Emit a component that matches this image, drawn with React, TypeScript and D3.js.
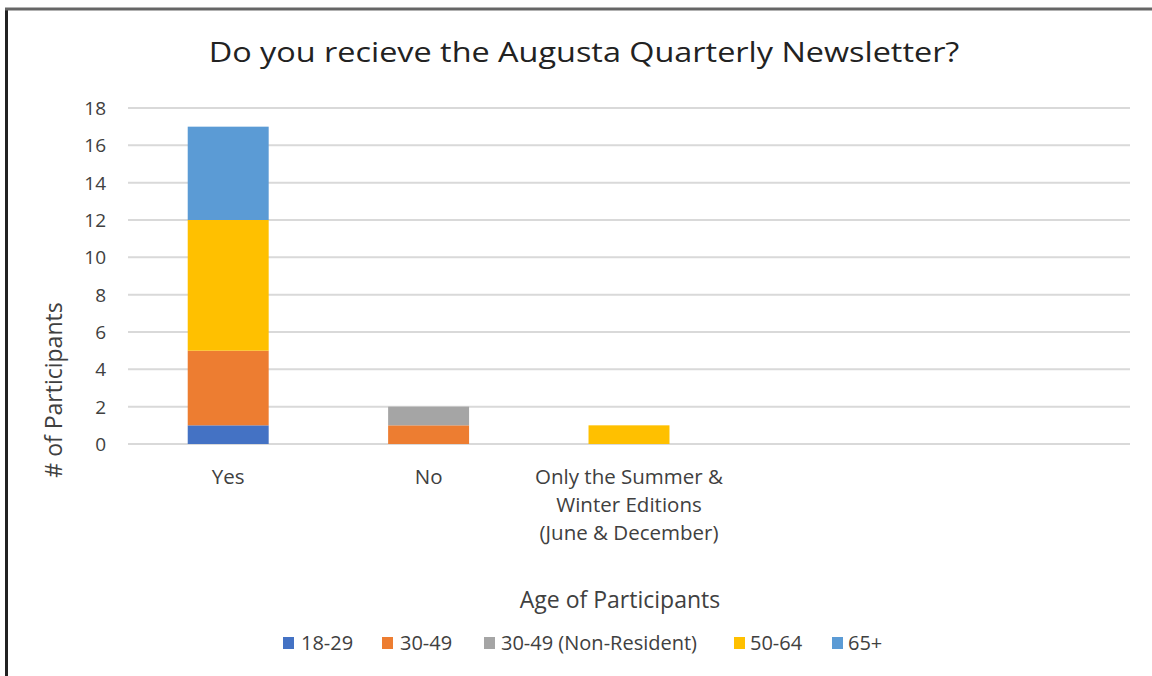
import React from "react";
import * as d3 from "d3";

const categories = ["Yes", "No", "Only the Summer & Winter Editions (June & December)", "", " "];
const categoryLines = [["Yes"], ["No"], ["Only the Summer &", "Winter Editions", "(June & December)"], [], []];
const seriesNames = ["18-29", "30-49", "30-49 (Non-Resident)", "50-64", "65+"];
const seriesColors = ["#4472C4", "#ED7D31", "#A5A5A5", "#FFC000", "#5B9BD5"];
const s1829 = [1, 0, 0, 0, 0];
const s3049 = [4, 1, 0, 0, 0];
const s3049nr = [0, 1, 0, 0, 0];
const s5064 = [7, 0, 1, 0, 0];
const s65 = [5, 0, 0, 0, 0];
const yTicks = [0, 2, 4, 6, 8, 10, 12, 14, 16, 18];

const W = 1152;
const H = 676;
const FONT = "'Open Sans', sans-serif";

export default function App() {
  const rows = categories.map((c, i) => ({
    cat: c,
    "18-29": s1829[i],
    "30-49": s3049[i],
    "30-49 (Non-Resident)": s3049nr[i],
    "50-64": s5064[i],
    "65+": s65[i],
  }));
  const stack = d3.stack<any>().keys(seriesNames)(rows);
  const x = d3.scaleBand().domain(categories).range([128, 1130]).paddingInner(0.596).paddingOuter(0.298);
  const y = d3.scaleLinear().domain([0, 18]).range([444, 108]);

  const legendItems = [
    { sq: 283, tx: 301 },
    { sq: 382, tx: 400 },
    { sq: 484, tx: 501 },
    { sq: 734, tx: 750 },
    { sq: 832, tx: 848 },
  ];

  return (
    <svg width={W} height={H} style={{ position: "absolute", left: 0, top: 0 }}>
      <rect x={0} y={0} width={W} height={H} fill="#fff" />
      <line x1={6.5} y1={8} x2={6.5} y2={H} stroke="#222" strokeWidth={3} />
      <line x1={5} y1={9} x2={W} y2={9} stroke="#666" strokeWidth={3} />
      <text
        transform="translate(584,62) scale(1.2,1)"
        textAnchor="middle"
        fontFamily={FONT}
        fontSize={27}
        fill="#222"
      >
        Do you recieve the Augusta Quarterly Newsletter?
      </text>
      {yTicks.map((t) => (
        <g key={t}>
          <line x1={128} x2={1130} y1={y(t)} y2={y(t)} stroke="#d9d9d9" strokeWidth={2} />
          <text x={106} y={y(t)} dy="0.36em" textAnchor="end" fontFamily={FONT} fontSize={19} fill="#404040">
            {t}
          </text>
        </g>
      ))}
      {stack.map((layer, li) => (
        <g key={li} fill={seriesColors[li]}>
          {layer.map((d, i) =>
            d[1] - d[0] > 0 ? (
              <rect
                key={i}
                x={x(categories[i])!}
                width={x.bandwidth()}
                y={y(d[1])}
                height={y(d[0]) - y(d[1])}
              />
            ) : null
          )}
        </g>
      ))}
      {categories.map((c, i) => (
        <text key={i} textAnchor="middle" fontFamily={FONT} fontSize={20.5} fill="#404040">
          {categoryLines[i].map((ln, j) => (
            <tspan key={j} x={x(c)! + x.bandwidth() / 2} y={484 + j * 28}>
              {ln}
            </tspan>
          ))}
        </text>
      ))}
      <text
        transform="translate(62,390) rotate(-90)"
        textAnchor="middle"
        fontFamily={FONT}
        fontSize={23}
        fill="#404040"
      >
        # of Participants
      </text>
      <text x={620} y={608} textAnchor="middle" fontFamily={FONT} fontSize={23} fill="#404040">
        Age of Participants
      </text>
      {seriesNames.map((s, i) => (
        <g key={s}>
          <rect x={legendItems[i].sq} y={637} width={11} height={12} fill={seriesColors[i]} />
          <text x={legendItems[i].tx} y={650} fontFamily={FONT} fontSize={20} fill="#404040">
            {s}
          </text>
        </g>
      ))}
    </svg>
  );
}
